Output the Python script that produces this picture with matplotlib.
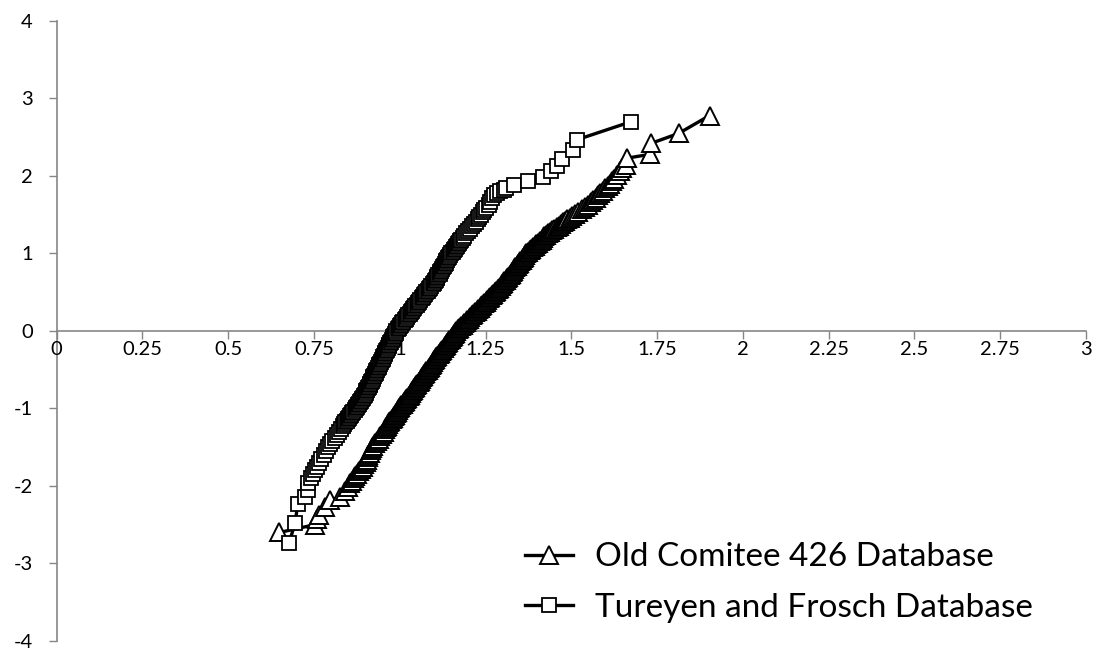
import matplotlib
matplotlib.use("Agg")
import matplotlib.pyplot as plt

plt.rcParams['font.family'] = ['Lato', 'DejaVu Sans']
plt.rcParams['axes.unicode_minus'] = False

# Old Comitee 426 Database: sorted ratio (x) vs. normal score (z)
oc_x = [0.649, 0.752, 0.760, 0.766, 0.783, 0.798, 0.827, 0.841, 0.848, 0.856,
        0.861, 0.866, 0.871, 0.876, 0.880, 0.886, 0.892, 0.897, 0.901, 0.904,
        0.907, 0.909, 0.912, 0.915, 0.919, 0.923, 0.929, 0.934, 0.939, 0.943,
        0.948, 0.953, 0.957, 0.961, 0.964,
        0.967, 0.970, 0.973, 0.977, 0.980, 0.983, 0.986, 0.989, 0.992, 0.996,
        0.999, 1.002, 1.005, 1.009, 1.012, 1.016, 1.019, 1.022, 1.026, 1.029,
        1.032, 1.036, 1.039, 1.042, 1.045, 1.048, 1.051, 1.055, 1.058, 1.061,
        1.064, 1.068, 1.071, 1.074, 1.077, 1.081, 1.084, 1.088, 1.091, 1.094,
        1.097, 1.101, 1.104, 1.107, 1.110, 1.114, 1.117, 1.121, 1.124, 1.128,
        1.131, 1.135, 1.138, 1.142, 1.145, 1.149, 1.152, 1.155, 1.158, 1.161,
        1.165, 1.170, 1.174, 1.179, 1.183, 1.188, 1.192, 1.197, 1.201, 1.206,
        1.210, 1.215, 1.219, 1.224, 1.228, 1.233, 1.237, 1.241, 1.245, 1.250,
        1.254, 1.259, 1.263, 1.268, 1.272, 1.277, 1.281, 1.286, 1.290, 1.294,
        1.298, 1.302, 1.305, 1.309, 1.313, 1.316, 1.320, 1.323, 1.327, 1.330,
        1.334, 1.337, 1.341, 1.344, 1.348, 1.351, 1.355, 1.358, 1.362, 1.365,
        1.369, 1.374, 1.379, 1.384, 1.389, 1.393, 1.398, 1.403, 1.408, 1.414,
        1.419,
        1.421, 1.427, 1.433, 1.439, 1.445, 1.451, 1.457, 1.463, 1.469, 1.475,
        1.482, 1.488, 1.495, 1.501, 1.511, 1.521, 1.530, 1.540, 1.548, 1.556,
        1.564, 1.571, 1.578, 1.585, 1.592, 1.599, 1.606, 1.612, 1.618, 1.624,
        1.633, 1.641, 1.648, 1.659, 1.662, 1.730, 1.732, 1.813, 1.903]
oc_z = [-2.60, -2.50, -2.43, -2.37, -2.27, -2.18, -2.14, -2.07, -2.01, -1.96,
        -1.93, -1.90, -1.87, -1.84, -1.81, -1.78, -1.75, -1.72, -1.69, -1.66,
        -1.63, -1.60, -1.57, -1.54, -1.51, -1.48, -1.45, -1.42, -1.39, -1.36,
        -1.33, -1.30, -1.27, -1.24, -1.22,
        -1.20, -1.18, -1.16, -1.14, -1.12, -1.10, -1.08, -1.06, -1.04, -1.02,
        -1.00, -0.98, -0.96, -0.94, -0.92, -0.90, -0.88, -0.86, -0.84, -0.82,
        -0.80, -0.78, -0.76, -0.74, -0.72, -0.70, -0.68, -0.66, -0.64, -0.62,
        -0.60, -0.58, -0.56, -0.54, -0.52, -0.50, -0.48, -0.46, -0.44, -0.42,
        -0.40, -0.38, -0.36, -0.34, -0.32, -0.30, -0.28, -0.26, -0.24, -0.22,
        -0.20, -0.18, -0.16, -0.14, -0.12, -0.10, -0.08, -0.06, -0.04, -0.02,
        0.00, 0.02, 0.04, 0.06, 0.08, 0.10, 0.12, 0.14, 0.16, 0.18,
        0.20, 0.22, 0.24, 0.26, 0.28, 0.30, 0.32, 0.34, 0.36, 0.38,
        0.40, 0.42, 0.44, 0.46, 0.48, 0.50, 0.52, 0.54, 0.56, 0.58,
        0.60, 0.62, 0.64, 0.66, 0.68, 0.70, 0.72, 0.74, 0.76, 0.78,
        0.80, 0.82, 0.84, 0.86, 0.88, 0.90, 0.92, 0.94, 0.96, 0.98,
        1.00, 1.02, 1.04, 1.06, 1.08, 1.10, 1.12, 1.14, 1.16, 1.18,
        1.20,
        1.22, 1.24, 1.26, 1.28, 1.30, 1.32, 1.34, 1.36, 1.38, 1.40,
        1.42, 1.44, 1.46, 1.48, 1.51, 1.54, 1.57, 1.60, 1.63, 1.66,
        1.69, 1.72, 1.75, 1.78, 1.81, 1.84, 1.87, 1.90, 1.93, 1.96,
        2.01, 2.07, 2.10, 2.14, 2.23, 2.28, 2.42, 2.55, 2.78]

# Tureyen and Frosch Database
tf_x = [0.678, 0.695, 0.703, 0.724, 0.732, 0.734, 0.741, 0.747, 0.753, 0.759,
        0.765, 0.772, 0.778, 0.784, 0.791, 0.797, 0.803, 0.810, 0.816, 0.823,
        0.829, 0.834,
        0.839, 0.842, 0.846, 0.849, 0.852, 0.856, 0.859, 0.862, 0.865, 0.869,
        0.872, 0.875, 0.878, 0.882, 0.885, 0.888, 0.891, 0.894, 0.897, 0.899,
        0.901, 0.903, 0.906, 0.908, 0.910, 0.912, 0.914, 0.917, 0.919, 0.921,
        0.923, 0.925, 0.928, 0.930, 0.932, 0.934, 0.936, 0.939, 0.941, 0.943,
        0.945, 0.947, 0.950, 0.952, 0.954, 0.956, 0.958, 0.961, 0.963, 0.965,
        0.968, 0.970, 0.972, 0.974, 0.977, 0.979, 0.981, 0.983, 0.986, 0.988,
        0.990, 0.994, 0.997, 1.001, 1.004, 1.008, 1.011, 1.015, 1.018, 1.022,
        1.025, 1.029, 1.032, 1.036, 1.039, 1.043, 1.046, 1.050, 1.053, 1.057,
        1.060, 1.064, 1.067, 1.071, 1.074, 1.078, 1.081, 1.085, 1.088, 1.092,
        1.096, 1.100, 1.103, 1.105, 1.108, 1.110, 1.113, 1.116, 1.118, 1.121,
        1.123, 1.126, 1.129, 1.131, 1.134, 1.136, 1.139, 1.141, 1.144, 1.147,
        1.150, 1.154, 1.157, 1.160, 1.163, 1.167, 1.170, 1.173, 1.176, 1.180,
        1.183,
        1.188, 1.193, 1.199, 1.204, 1.210, 1.216, 1.221, 1.227, 1.232, 1.237,
        1.242, 1.247, 1.252, 1.259, 1.264, 1.269, 1.276, 1.283, 1.293, 1.305,
        1.310, 1.332, 1.374, 1.419, 1.440, 1.457, 1.474, 1.505, 1.518, 1.674]
tf_z = [-2.73, -2.48, -2.23, -2.14, -2.05, -1.96, -1.90, -1.85, -1.80, -1.75,
        -1.70, -1.65, -1.60, -1.55, -1.50, -1.46, -1.42, -1.38, -1.34, -1.30,
        -1.26, -1.23,
        -1.20, -1.18, -1.16, -1.14, -1.12, -1.10, -1.08, -1.06, -1.04, -1.02,
        -1.00, -0.98, -0.96, -0.94, -0.92, -0.90, -0.88, -0.86, -0.84, -0.82,
        -0.80, -0.78, -0.76, -0.74, -0.72, -0.70, -0.68, -0.66, -0.64, -0.62,
        -0.60, -0.58, -0.56, -0.54, -0.52, -0.50, -0.48, -0.46, -0.44, -0.42,
        -0.40, -0.38, -0.36, -0.34, -0.32, -0.30, -0.28, -0.26, -0.24, -0.22,
        -0.20, -0.18, -0.16, -0.14, -0.12, -0.10, -0.08, -0.06, -0.04, -0.02,
        0.00, 0.02, 0.04, 0.06, 0.08, 0.10, 0.12, 0.14, 0.16, 0.18,
        0.20, 0.22, 0.24, 0.26, 0.28, 0.30, 0.32, 0.34, 0.36, 0.38,
        0.40, 0.42, 0.44, 0.46, 0.48, 0.50, 0.52, 0.54, 0.56, 0.58,
        0.60, 0.62, 0.64, 0.66, 0.68, 0.70, 0.72, 0.74, 0.76, 0.78,
        0.80, 0.82, 0.84, 0.86, 0.88, 0.90, 0.92, 0.94, 0.96, 0.98,
        1.00, 1.02, 1.04, 1.06, 1.08, 1.10, 1.12, 1.14, 1.16, 1.18,
        1.20,
        1.23, 1.26, 1.29, 1.32, 1.35, 1.38, 1.41, 1.44, 1.47, 1.50,
        1.53, 1.56, 1.59, 1.63, 1.67, 1.71, 1.75, 1.78, 1.80, 1.82,
        1.84, 1.88, 1.93, 1.99, 2.06, 2.13, 2.22, 2.33, 2.47, 2.70]

x_ticks = [0, 0.25, 0.5, 0.75, 1, 1.25, 1.5, 1.75, 2, 2.25, 2.5, 2.75, 3]
x_labels = ['0', '0.25', '0.5', '0.75', '1', '1.25', '1.5', '1.75', '2',
            '2.25', '2.5', '2.75', '3']
y_ticks = [-4, -3, -2, -1, 0, 1, 2, 3, 4]

axis_grey = '#868686'

fig = plt.figure(figsize=(10.96, 6.54), dpi=100)
ax = fig.add_axes([0.0516, 0.0199, 0.9393, 0.948])

ax.plot(oc_x, oc_z, color='black', lw=2.4, marker='^', ms=13.5,
        mfc='white', mec='black', mew=1.4, zorder=3,
        label='Old Comitee 426 Database')
ax.plot(tf_x, tf_z, color='black', lw=2.4, marker='s', ms=10,
        mfc='white', mec='black', mew=1.3, zorder=4,
        label='Tureyen and Frosch Database')

ax.set_xlim(0, 3)
ax.set_ylim(-4, 4)
ax.set_xticks(x_ticks)
ax.set_xticklabels(x_labels)
ax.set_yticks(y_ticks)

# axes cross at the origin, Excel style
ax.spines['top'].set_visible(False)
ax.spines['right'].set_visible(False)
ax.spines['bottom'].set_position(('data', 0))
ax.spines['left'].set_position(('data', 0))
for side in ('bottom', 'left'):
    ax.spines[side].set_color(axis_grey)
    ax.spines[side].set_linewidth(1.2)
    ax.spines[side].set_zorder(1)

ax.tick_params(axis='both', direction='out', length=6, width=1.0,
               color=axis_grey, labelsize=14.5, labelcolor='black')
ax.tick_params(axis='y', pad=11)
ax.tick_params(axis='x', pad=1)

leg = ax.legend(loc='center left', bbox_to_anchor=(0.439, 0.094),
                frameon=False, fontsize=24, borderpad=0,
                handlelength=1.45, handletextpad=0.65, labelspacing=0.62)

fig.savefig('out.png', dpi=100)
